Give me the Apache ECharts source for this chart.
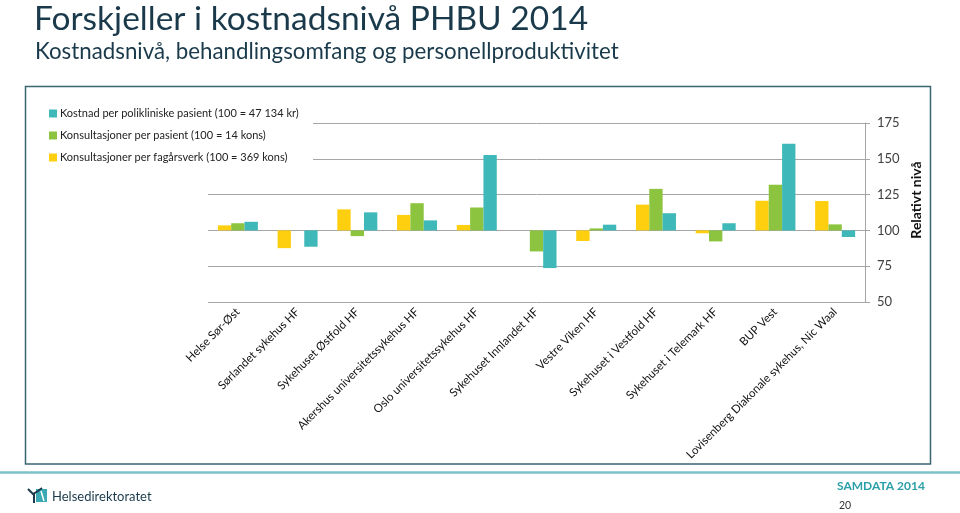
<!DOCTYPE html>
<html><head><meta charset="utf-8">
<script src="https://cdn.jsdelivr.net/npm/echarts@6/dist/echarts.min.js"></script>
<style>html,body{margin:0;padding:0;background:#fff}#c{width:960px;height:513px}</style>
</head><body><div id="c"></div>
<script>
var categories = ['Helse Sør-Øst','Sørlandet sykehus HF','Sykehuset Østfold HF','Akershus universitetssykehus HF','Oslo universitetssykehus HF','Sykehuset Innlandet HF','Vestre Viken HF','Sykehuset i Vestfold HF','Sykehuset i Telemark HF','BUP Vest','Lovisenberg Diakonale sykehus, Nic Waal'];
var seriesNames = ['Konsultasjoner per fagårsverk (100 = 369 kons)','Konsultasjoner per pasient (100 = 14 kons)','Kostnad per polikliniske pasient (100 = 47 134 kr)'];
var konsFagarsverk = [103.5, 87.6, 114.7, 110.8, 103.8, 100, 92.6, 118, 98, 120.7, 120.5];
var konsPasient = [105, 100, 96, 119, 116, 85.3, 101.4, 129, 92.3, 131.9, 104.2];
var kostnadPasient = [106, 88.6, 112.6, 107, 152.7, 73.7, 104, 112, 105, 160.5, 95.4];
var yTicks = [50, 75, 100, 125, 150, 175];
var baseLevel = 100;

var colors = ['#FDCF0E', '#8DC43F', '#3FB8B9'];
var FONT = 'Lato, "Open Sans", sans-serif';
function dev(arr){ return arr.map(function(v){ return +(v - baseLevel).toFixed(2); }); }

var chart = echarts.init(document.getElementById('c'), null, {renderer:'canvas'});
var allData = [konsFagarsverk, konsPasient, kostnadPasient];
var option = {
  animation: false,
  backgroundColor: '#fff',
  color: colors,
  title: [
    {text: 'Forskjeller i kostnadsnivå PHBU 2014', left: 34, top: 2, padding: 0,
     textStyle: {fontFamily: FONT, fontSize: 33.5, fontWeight: 'normal', color: '#1a3a4b'}},
    {text: 'Kostnadsnivå, behandlingsomfang og personellproduktivitet', left: 35, top: 41, padding: 0,
     textStyle: {fontFamily: FONT, fontSize: 22.3, fontWeight: 'normal', color: '#1a3a4b'}}
  ],
  legend: {
    orient: 'vertical', left: 44, top: 103, itemWidth: 8, itemHeight: 8, itemGap: 11,
    icon: 'rect', z: 6,
    data: [seriesNames[2], seriesNames[1], seriesNames[0]],
    textStyle: {fontFamily: FONT, fontSize: 11, color: '#222', padding: [0,0,0,-2]}
  },
  grid: {left: 208, right: 95, top: 123, bottom: 211, containLabel: false},
  xAxis: {
    type: 'category', data: categories,
    axisLine: {show: false, onZero: false}, axisTick: {show: false},
    axisLabel: {interval: 0, rotate: 45, margin: 8, fontFamily: FONT, fontSize: 11.5, color: '#111'}
  },
  yAxis: {
    type: 'value', position: 'right',
    min: yTicks[0] - baseLevel, max: yTicks[yTicks.length-1] - baseLevel, interval: 25,
    axisLine: {show: true, lineStyle: {color: '#a6a6a6'}},
    axisTick: {show: true, length: 5, lineStyle: {color: '#a6a6a6'}},
    splitLine: {show: true, lineStyle: {color: '#a6a6a6', width: 1}},
    axisLabel: {margin: 12, fontFamily: FONT, fontSize: 13, color: '#404040',
      formatter: function(v){ return String(v + baseLevel); }}
  },
  series: seriesNames.map(function(n, i){
    return {name: n, type: 'bar', data: dev(allData[i]), barGap: '0%', barCategoryGap: '33%',
      itemStyle: {color: colors[i]}};
  }),
  graphic: [
    {type: 'rect', z: 5, shape: {x: 30, y: 98, width: 283, height: 72}, style: {fill: '#fff'}},
    {type: 'rect', z: 7, shape: {x: 25.5, y: 86.5, width: 905, height: 377.5}, style: {fill: 'none', stroke: '#3b6571', lineWidth: 1.5}},
    {type: 'line', z: 7, shape: {x1: 0, y1: 472.5, x2: 960, y2: 472.5}, style: {stroke: '#7cc2c7', lineWidth: 2.5}},
    {type: 'text', z: 7, x: 916, y: 200, rotation: Math.PI/2,
      style: {text: 'Relativt nivå', font: 'bold 14px ' + FONT, fill: '#111', align: 'center', verticalAlign: 'middle'}},
    {type: 'rect', z: 7, shape: {x: 36, y: 489, width: 11, height: 13}, style: {fill: '#3aa9b3'}},
    {type: 'polyline', z: 8, shape: {points: [[28,489],[33,494],[38,491],[42,488]]}, style: {stroke: '#1a3a4b', lineWidth: 2, fill: 'none'}},
    {type: 'line', z: 8, shape: {x1: 34, y1: 494, x2: 34, y2: 503}, style: {stroke: '#1a3a4b', lineWidth: 2}},
    {type: 'line', z: 8, shape: {x1: 41, y1: 491, x2: 44, y2: 501}, style: {stroke: '#fff', lineWidth: 1.5}},
    {type: 'text', z: 7, x: 52, y: 497,
      style: {text: 'Helsedirektoratet', font: '13px ' + FONT, fill: '#1a3a4b', verticalAlign: 'middle'}},
    {type: 'text', z: 7, x: 837, y: 486,
      style: {text: 'SAMDATA 2014', font: 'bold 12px ' + FONT, fill: '#2b9fa7', verticalAlign: 'middle'}},
    {type: 'text', z: 7, x: 839, y: 506,
      style: {text: '20', font: '10.5px ' + FONT, fill: '#333', verticalAlign: 'middle'}}
  ]
};
chart.setOption(option);
</script></body></html>
